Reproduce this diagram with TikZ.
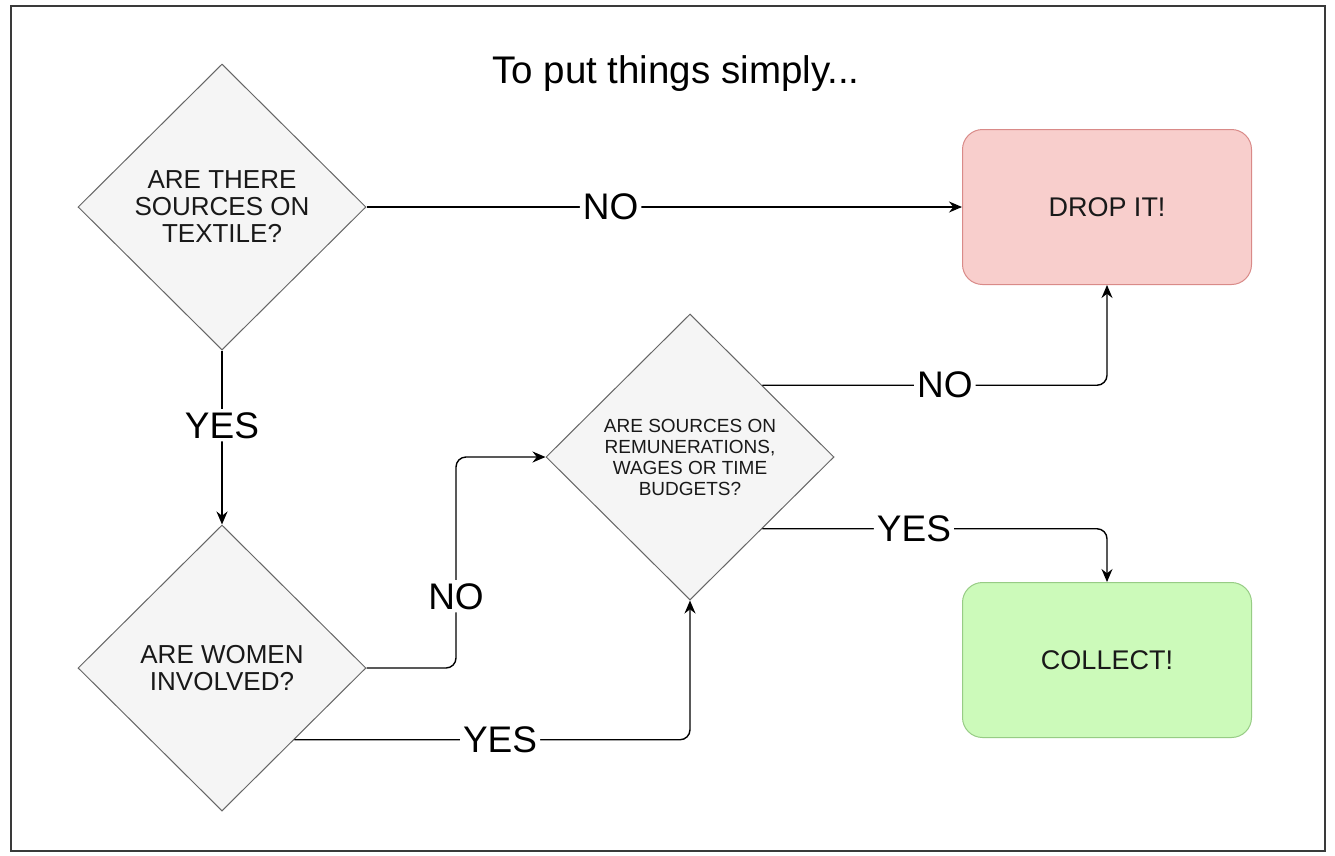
\documentclass[tikz,border=0pt]{standalone}
\usepackage{fontspec}
\setmainfont{Liberation Sans}
\usetikzlibrary{shapes.geometric,arrows.meta,calc}
\definecolor{qfill}{HTML}{F5F5F5}
\definecolor{qline}{HTML}{666666}
\definecolor{dropfill}{HTML}{F8CECC}
\definecolor{dropline}{HTML}{D98A88}
\definecolor{getfill}{HTML}{CCFABA}
\definecolor{getline}{HTML}{97CC85}
\definecolor{frameline}{HTML}{3A3A3A}
\tikzset{
  question/.style={diamond, draw=qline, fill=qfill, line width=1pt, minimum width=288, minimum height=286,
    inner sep=0pt, align=center, text=black!90, font=\fontsize{26}{27}\selectfont},
  outcome/.style={rectangle, rounded corners=20, line width=1pt, minimum width=289, minimum height=155,
    text=black!90, font=\fontsize{27}{30}\selectfont},
  arr/.style={-{Stealth[length=13,width=11]}, line width=1.4pt, rounded corners=10},
  lbl/.style={fill=white, inner sep=3pt, font=\fontsize{37}{40}\selectfont}
}
\begin{document}
\begin{tikzpicture}[x=1pt, y=-1pt]
    \fill[white] (0,0) rectangle (1335,855);
    \draw[frameline, line width=2pt] (11,6) rectangle (1325,851);

    \node[font=\fontsize{38.5}{40}\selectfont] (title) at (676,74) {To put things simply...};

    \node[question] (d1) at (222,207) {ARE THERE\\SOURCES ON\\TEXTILE?};
    \node[question] (d2) at (222,668) {ARE WOMEN\\INVOLVED?};
    \node[question, font=\fontsize{19}{21}\selectfont] (d3) at (690,457) {ARE SOURCES ON\\REMUNERATIONS,\\WAGES OR TIME\\BUDGETS?};

    \node[outcome, draw=dropline, fill=dropfill] (drop) at (1107,207) {DROP IT!};
    \node[outcome, draw=getline, fill=getfill] (collect) at (1107,660) {COLLECT!};

    \coordinate (m) at ($(d2.east)!0.5!(d3.west)$);

    \draw[arr] (d1.east) -- node[lbl, pos=0.41] {NO} (drop.west);
    \draw[arr] (d1.south) -- node[lbl, pos=0.43] {YES} (d2.north);
    \draw[arr] (d2.east) -| node[lbl, pos=0.84] {NO} (m) |- (d3.west);
    \draw[arr] (d2.south east) -| node[lbl, pos=0.26] {YES} (d3.south);
    \draw[arr] (d3.north east) -| node[lbl, pos=0.265] {NO} (drop.south);
    \draw[arr] (d3.south east) -| node[lbl, pos=0.22] {YES} (collect.north);
\end{tikzpicture}
\end{document}
